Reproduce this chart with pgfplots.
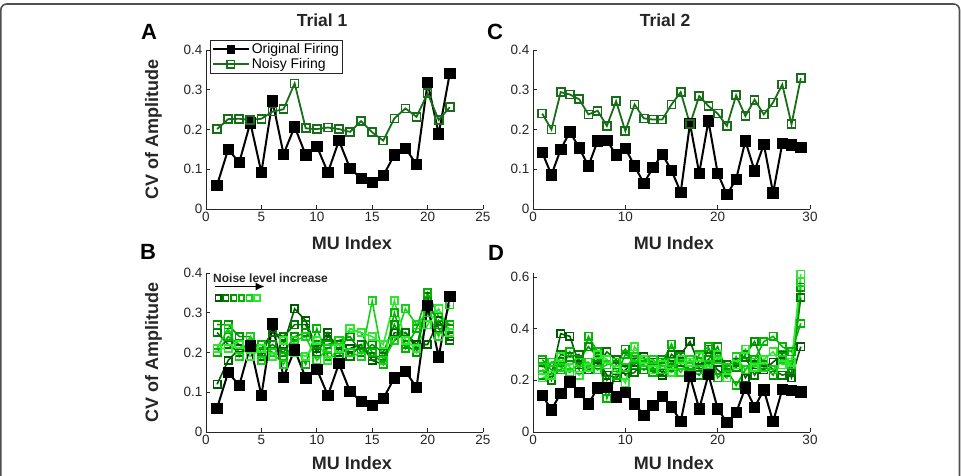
\documentclass[border=0pt]{standalone}
\usepackage{fontspec}
\setmainfont{Liberation Sans}
\usepackage{pgfplots}
\usepackage{pgfplotstable}
\usetikzlibrary{arrows.meta}
\pgfplotsset{compat=1.18}

\definecolor{axgray}{RGB}{38,38,38}
\definecolor{framegray}{RGB}{80,80,80}
\definecolor{noisy}{RGB}{24,110,24}
\definecolor{nA}{RGB}{0,90,0}
\definecolor{nB}{RGB}{0,120,0}
\definecolor{nC}{RGB}{0,150,0}
\definecolor{nD}{RGB}{0,182,0}
\definecolor{nE}{RGB}{20,210,20}
\definecolor{nF}{RGB}{45,232,45}

% Trial 1: original and noisy firing
\pgfplotstableread{
x orig noisy
1  0.060 0.201
2  0.150 0.226
3  0.117 0.227
4  0.217 0.224
5  0.092 0.227
6  0.272 0.245
7  0.138 0.251
8  0.207 0.316
9  0.136 0.203
10 0.158 0.201
11 0.092 0.205
12 0.172 0.201
13 0.102 0.194
14 0.077 0.221
15 0.067 0.193
16 0.084 0.172
17 0.136 0.228
18 0.153 0.253
19 0.112 0.232
20 0.318 0.291
21 0.189 0.224
22 0.341 0.256
}\trialone

% Trial 2: original and noisy firing
\pgfplotstableread{
x orig noisy
1  0.142 0.240
2  0.086 0.200
3  0.150 0.294
4  0.194 0.288
5  0.154 0.276
6  0.108 0.238
7  0.171 0.247
8  0.173 0.209
9  0.136 0.271
10 0.153 0.196
11 0.108 0.263
12 0.065 0.228
13 0.104 0.225
14 0.138 0.225
15 0.097 0.263
16 0.042 0.294
17 0.215 0.213
18 0.090 0.284
19 0.222 0.259
20 0.090 0.240
21 0.036 0.209
22 0.075 0.286
23 0.171 0.234
24 0.096 0.275
25 0.163 0.238
26 0.040 0.268
27 0.165 0.313
28 0.161 0.213
29 0.155 0.329
}\trialtwo

% Trial 1: six noise levels
\pgfplotstableread{
x  l1   l2   l3   l4   l5   l6
1  0.12 0.25 0.27 0.20 0.21 0.21
2  0.18 0.22 0.27 0.24 0.26 0.21
3  0.21 0.20 0.24 0.22 0.19 0.22
4  0.22 0.21 0.24 0.21 0.24 0.19
5  0.19 0.21 0.20 0.22 0.18 0.21
6  0.26 0.25 0.22 0.20 0.20 0.19
7  0.22 0.24 0.20 0.19 0.17 0.23
8  0.31 0.27 0.24 0.22 0.23 0.20
9  0.28 0.27 0.25 0.17 0.24 0.19
10 0.21 0.20 0.22 0.26 0.18 0.23
11 0.25 0.24 0.22 0.19 0.21 0.18
12 0.20 0.22 0.23 0.19 0.23 0.21
13 0.21 0.19 0.24 0.26 0.20 0.26
14 0.22 0.22 0.20 0.25 0.19 0.25
15 0.18 0.19 0.22 0.20 0.33 0.24
16 0.17 0.19 0.20 0.17 0.18 0.22
17 0.25 0.23 0.27 0.30 0.23 0.33
18 0.25 0.25 0.22 0.21 0.31 0.23
19 0.22 0.21 0.20 0.26 0.27 0.21
20 0.22 0.34 0.33 0.35 0.30 0.27
21 0.28 0.26 0.27 0.29 0.24 0.31
22 0.24 0.23 0.26 0.27 0.32 0.25
}\levelsone

% Trial 2: six noise levels
\pgfplotstableread{
x  l1   l2   l3   l4   l5   l6
1  0.24 0.27 0.22 0.28 0.25 0.21
2  0.22 0.20 0.27 0.24 0.27 0.22
3  0.38 0.30 0.27 0.24 0.25 0.29
4  0.37 0.29 0.26 0.31 0.23 0.25
5  0.26 0.30 0.28 0.24 0.27 0.22
6  0.25 0.24 0.33 0.37 0.27 0.25
7  0.28 0.26 0.29 0.31 0.24 0.30
8  0.22 0.31 0.20 0.13 0.26 0.28
9  0.21 0.28 0.26 0.22 0.27 0.24
10 0.24 0.22 0.32 0.30 0.25 0.19
11 0.27 0.23 0.26 0.28 0.29 0.33
12 0.29 0.28 0.24 0.26 0.27 0.28
13 0.23 0.27 0.25 0.23 0.28 0.24
14 0.22 0.23 0.28 0.27 0.24 0.26
15 0.26 0.30 0.25 0.34 0.27 0.23
16 0.30 0.27 0.29 0.26 0.23 0.28
17 0.35 0.27 0.24 0.23 0.28 0.27
18 0.26 0.25 0.22 0.30 0.24 0.29
19 0.28 0.32 0.28 0.33 0.26 0.24
20 0.24 0.29 0.33 0.21 0.28 0.30
21 0.21 0.26 0.23 0.24 0.25 0.21
22 0.29 0.27 0.25 0.18 0.29 0.26
23 0.21 0.29 0.30 0.24 0.24 0.32
24 0.26 0.22 0.35 0.28 0.27 0.25
25 0.24 0.28 0.26 0.35 0.25 0.28
26 0.27 0.24 0.22 0.37 0.24 0.31
27 0.30 0.22 0.29 0.33 0.28 0.26
28 0.21 0.23 0.24 0.31 0.26 0.27
29 0.33 0.52 0.56 0.42 0.58 0.61
}\levelstwo

\newcommand\tickfont{\fontsize{13.5}{15}\selectfont}

\pgfplotsset{
  mu axis/.style={
    scale only axis, width=277pt, height=159pt,
    xmin=0, ymin=0,
    axis x line*=bottom, axis y line*=left,
    axis line style={-, draw=axgray, line width=0.7pt},
    tick align=inside, major tick length=3.5pt,
    tick style={draw=axgray, line width=0.7pt},
    /pgf/number format/assume math mode=true,
    xticklabel style={font=\tickfont, text=axgray},
    yticklabel style={font=\tickfont, text=axgray,
      /pgf/number format/fixed, /pgf/number format/precision=1},
    label style={font=\bfseries\fontsize{18}{20}\selectfont, text=axgray},
    title style={font=\bfseries\fontsize{17.5}{20}\selectfont, text=axgray},
    xlabel={MU Index},
    clip=false,
  },
  orig/.style={black, line width=2pt, mark=square*, mark size=5.2pt,
    mark options={solid, fill=black, line width=0.8pt}},
  noisyline/.style={noisy, line width=1.8pt, mark=square, mark size=4pt,
    mark options={solid, line width=1.7pt}},
  lev/.style={#1, line width=1.6pt, mark=square, mark size=3.7pt,
    mark options={solid, line width=1.7pt}},
  levkey/.style={only marks, mark=square, mark size=2.7pt,
    mark options={line width=1.7pt}, #1},
}

\begin{document}
\begin{tikzpicture}
\useasboundingbox (0pt,0pt) rectangle (961pt,476pt);

% rounded frame of the figure
\draw[framegray, line width=1.6pt, rounded corners=6pt]
  (0.8pt,-10pt) -- (0.8pt,472pt) -- (959.5pt,472pt) -- (959.5pt,-10pt);

% panel A
\begin{axis}[mu axis, at={(206pt,267pt)}, anchor=south west,
  xmax=25, ymax=0.4, xtick={0,5,...,25}, ytick={0,0.1,...,0.4},
  ylabel={CV of Amplitude},
  ylabel style={at={(axis description cs:-0.19,0.5)}, anchor=center},
  xlabel style={at={(axis description cs:0.527,-0.215)}, anchor=center},
  title={Trial 1},
  title style={at={(axis description cs:0.419,1.151)}, anchor=center},
  legend style={at={(axis description cs:0.0144,1.064)}, anchor=north west,
    draw=axgray, line width=0.6pt, font=\fontsize{14}{16}\selectfont,
    inner sep=1.5pt, row sep=-1pt, cells={anchor=west}},
  legend image code/.code={\draw[mark repeat=2, mark phase=2, #1, mark size=3.6pt]
    plot coordinates {(0pt,0pt) (18pt,0pt) (36pt,0pt)};},
]
\addplot[orig] table[x=x, y=orig] {\trialone};
\addlegendentry{Original Firing}
\addplot[noisyline] table[x=x, y=noisy] {\trialone};
\addlegendentry{Noisy Firing}
\end{axis}

% panel C
\begin{axis}[mu axis, at={(533pt,267pt)}, anchor=south west,
  xmax=30, ymax=0.4, xtick={0,10,20,30}, ytick={0,0.1,...,0.4},
  xlabel style={at={(axis description cs:0.509,-0.215)}, anchor=center},
  title={Trial 2},
  title style={at={(axis description cs:0.477,1.151)}, anchor=center},
]
\addplot[orig] table[x=x, y=orig] {\trialtwo};
\addplot[noisyline] table[x=x, y=noisy] {\trialtwo};
\end{axis}

% panel B
\begin{axis}[mu axis, at={(206pt,44pt)}, anchor=south west,
  xmax=25, ymax=0.4, xtick={0,5,...,25}, ytick={0,0.1,...,0.4},
  ylabel={CV of Amplitude},
  ylabel style={at={(axis description cs:-0.19,0.5)}, anchor=center},
  xlabel style={at={(axis description cs:0.527,-0.195)}, anchor=center},
]
\addplot[lev=nA] table[x=x, y=l1] {\levelsone};
\addplot[lev=nB] table[x=x, y=l2] {\levelsone};
\addplot[lev=nC] table[x=x, y=l3] {\levelsone};
\addplot[lev=nD] table[x=x, y=l4] {\levelsone};
\addplot[lev=nE] table[x=x, y=l5] {\levelsone};
\addplot[lev=nF] table[x=x, y=l6] {\levelsone};
\addplot[orig] table[x=x, y=orig] {\trialone};
% key for the noise levels
\node[anchor=west, inner sep=0pt, font=\bfseries\fontsize{12}{14}\selectfont, text=axgray]
  at (axis cs:0.63,0.388) {Noise level increase};
\draw[-{Latex[length=9pt,width=8pt]}, line width=1.6pt, black]
  (axis cs:0.8,0.366) -- (axis cs:5.3,0.366);
\addplot[levkey=nA] coordinates {(1.10,0.337)};
\addplot[levkey=nB] coordinates {(1.80,0.337)};
\addplot[levkey=nC] coordinates {(2.50,0.337)};
\addplot[levkey=nD] coordinates {(3.20,0.337)};
\addplot[levkey=nE] coordinates {(3.90,0.337)};
\addplot[levkey=nF] coordinates {(4.60,0.337)};
\end{axis}

% panel D
\begin{axis}[mu axis, at={(533pt,44pt)}, anchor=south west,
  xmax=30, ymax=0.615, xtick={0,10,20,30}, ytick={0,0.2,0.4,0.6},
  xlabel style={at={(axis description cs:0.509,-0.195)}, anchor=center},
]
\addplot[lev=nA] table[x=x, y=l1] {\levelstwo};
\addplot[lev=nB] table[x=x, y=l2] {\levelstwo};
\addplot[lev=nC] table[x=x, y=l3] {\levelstwo};
\addplot[lev=nD] table[x=x, y=l4] {\levelstwo};
\addplot[lev=nE] table[x=x, y=l5] {\levelstwo};
\addplot[lev=nF] table[x=x, y=l6] {\levelstwo};
\addplot[orig] table[x=x, y=orig] {\trialtwo};
\end{axis}

% panel letters
\node[font=\bfseries\fontsize{22}{24}\selectfont] at (149pt,444pt) {A};
\node[font=\bfseries\fontsize{22}{24}\selectfont] at (495pt,444pt) {C};
\node[font=\bfseries\fontsize{22}{24}\selectfont] at (148pt,224pt) {B};
\node[font=\bfseries\fontsize{22}{24}\selectfont] at (496pt,223pt) {D};
\end{tikzpicture}
\end{document}
